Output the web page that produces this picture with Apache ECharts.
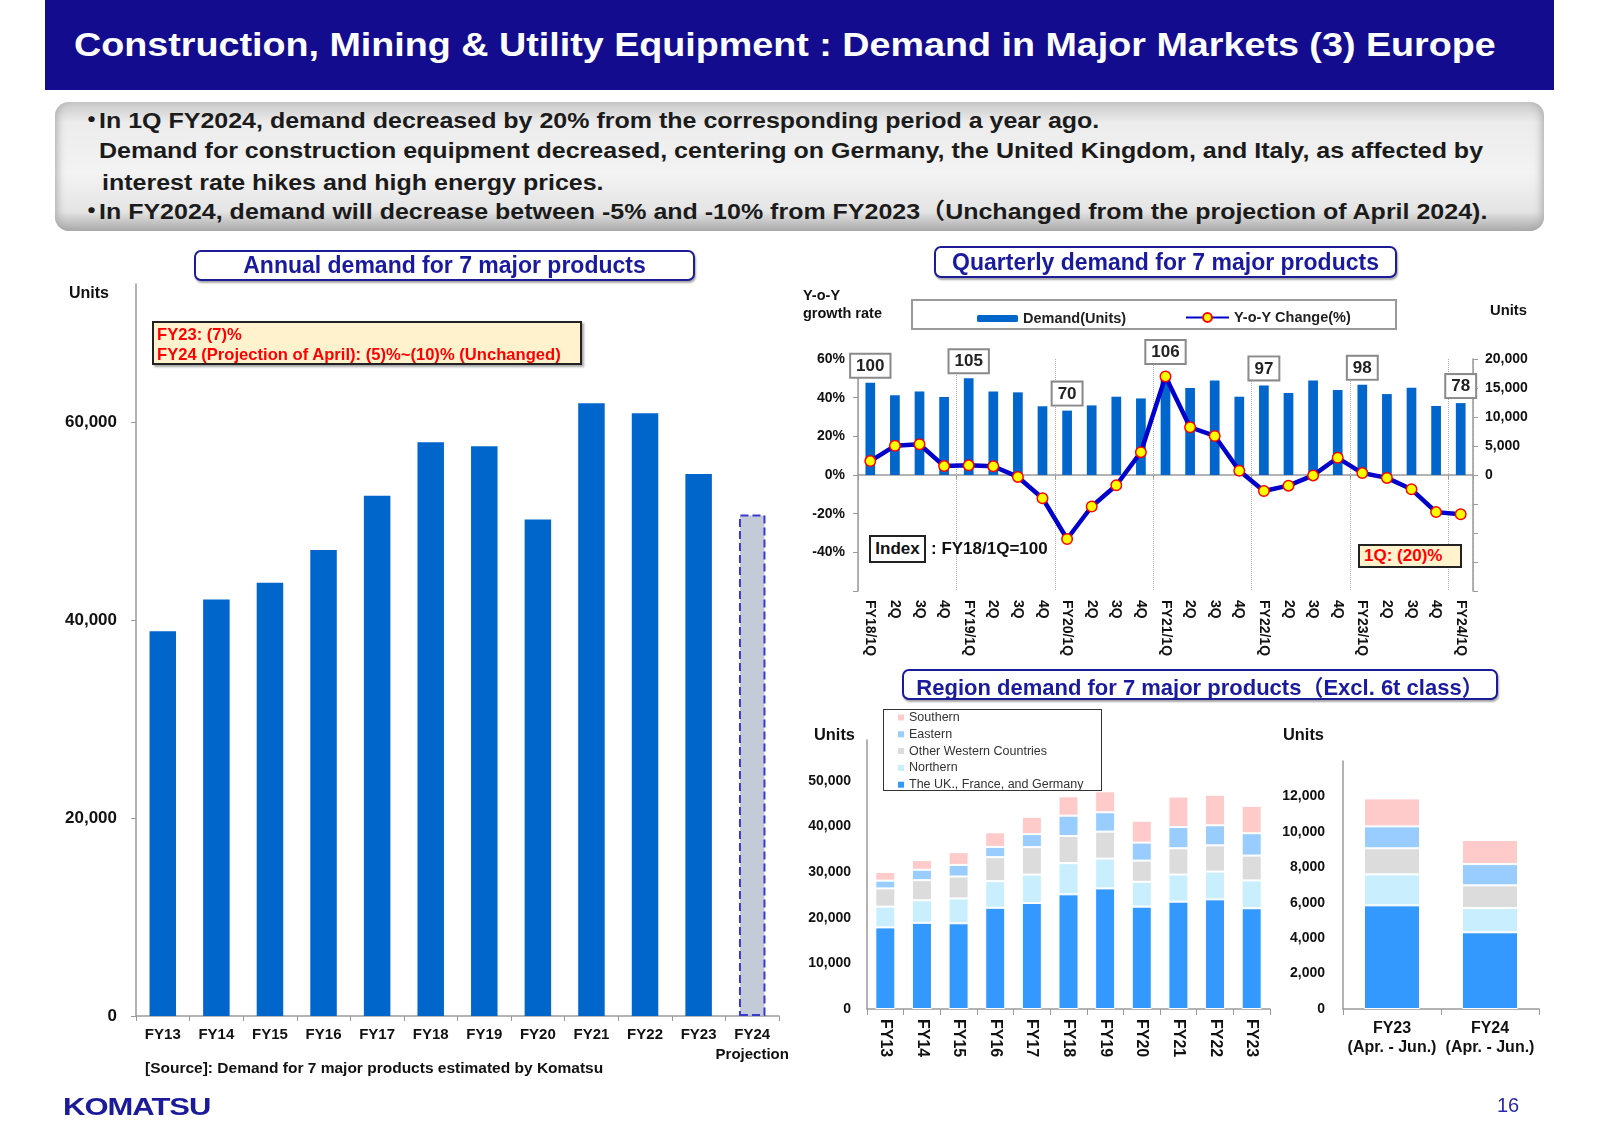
<!DOCTYPE html>
<html>
<head>
<meta charset="utf-8">
<script src="https://cdn.jsdelivr.net/npm/echarts@6/dist/echarts.min.js"></script>
<style>
html,body{margin:0;padding:0;background:#fff;}
#page{position:relative;width:1600px;height:1131px;overflow:hidden;font-family:'Liberation Sans',Arial,'Noto Sans CJK JP',sans-serif;}
#chart{position:absolute;left:0;top:0;width:1600px;height:1131px;}
.abs{position:absolute;white-space:nowrap;}
.mid{transform:translateY(-50%);line-height:1.15;}
.bul{font-weight:bold;font-size:25px;color:#1b1b1b;transform:translateY(-50%) scaleY(0.9);transform-origin:left center;line-height:1.15;}
.tbox{position:absolute;box-sizing:border-box;border:2px solid #1c1c96;border-radius:7px;background:#fff;box-shadow:1px 2px 2px rgba(0,0,0,0.35);color:#1a1a9e;font-weight:bold;font-size:23px;display:flex;align-items:center;justify-content:center;white-space:nowrap;}
.lbl{font-weight:bold;color:#111;}
</style>
</head>
<body>
<div id="page">
  <div id="chart"></div>

  <!-- header -->
  <div class="abs" style="left:45px;top:0;width:1509px;height:90px;background:#140c8f;"></div>
  <div class="abs" style="left:74px;top:45px;color:#fff;font-weight:bold;font-size:37.7px;line-height:1.15;transform:translateY(-50%) scaleY(0.86);transform-origin:left center;">Construction, Mining &amp; Utility Equipment : Demand in Major Markets (3) Europe</div>

  <!-- summary box -->
  <div class="abs" style="left:55px;top:102px;width:1489px;height:129px;border-radius:14px;background:linear-gradient(to bottom,#c9c9c9 0%,#ececec 16%,#f3f3f3 55%,#e4e4e4 85%,#a9a9a9 100%);box-shadow:inset 8px 0 8px -6px #aaa, inset -8px 0 8px -6px #aaa;"></div>
  <div class="abs bul" style="left:79px;top:120px;">・</div>
  <div class="abs bul" style="left:99px;top:120px;">In 1Q FY2024, demand decreased by 20% from the corresponding period a year ago.</div>
  <div class="abs bul" style="left:99px;top:150px;">Demand for construction equipment decreased, centering on Germany, the United Kingdom, and Italy, as affected by</div>
  <div class="abs bul" style="left:102px;top:182px;">interest rate hikes and high energy prices.</div>
  <div class="abs bul" style="left:79px;top:211px;">・</div>
  <div class="abs bul" style="left:99px;top:211px;">In FY2024, demand will decrease between -5% and -10% from FY2023（Unchanged from the projection of April 2024).</div>

  <!-- section titles -->
  <div class="tbox" style="left:194px;top:250px;width:501px;height:31px;">Annual demand for 7 major products</div>
  <div class="tbox" style="left:934px;top:246px;width:463px;height:32px;">Quarterly demand for 7 major products</div>
  <div class="tbox" style="left:902px;top:669px;width:596px;height:31px;font-size:22px;">Region demand for 7 major products（Excl. 6t class）</div>

  <!-- annual chart texts -->
  <div class="abs mid lbl" style="left:69px;top:293px;font-size:16px;">Units</div>
  <div class="abs" style="left:152px;top:321px;width:430px;height:44px;box-sizing:border-box;background:#fff2cc;border:2px solid #222;box-shadow:2px 2px 2px rgba(0,0,0,0.35);"></div>
  <div class="abs mid" style="left:157px;top:335px;color:#ff0000;font-weight:bold;font-size:16.6px;">FY23: (7)%</div>
  <div class="abs mid" style="left:157px;top:355px;color:#ff0000;font-weight:bold;font-size:16.6px;">FY24 (Projection of April): (5)%~(10)% (Unchanged)</div>
  <div class="abs mid lbl" style="left:145px;top:1068px;font-size:15.5px;">[Source]: Demand for 7 major products estimated by Komatsu</div>

  <!-- quarterly chart texts -->
  <div class="abs mid lbl" style="left:803px;top:295px;font-size:14.5px;">Y-o-Y</div>
  <div class="abs mid lbl" style="left:803px;top:313px;font-size:14.5px;">growth rate</div>
  <div class="abs" style="left:911px;top:299px;width:486px;height:31px;box-sizing:border-box;border:2px solid #9a9a9a;"></div>
  <div class="abs mid lbl" style="left:1490px;top:311px;font-size:14.8px;">Units</div>
  <div class="abs" style="left:869px;top:535px;width:57px;height:28px;box-sizing:border-box;border:2px solid #222;background:#fff;display:flex;align-items:center;justify-content:center;font-weight:bold;font-size:17px;color:#111;">Index</div>
  <div class="abs mid lbl" style="left:931px;top:549px;font-size:17px;">: FY18/1Q=100</div>
  <div class="abs" style="left:1358px;top:544px;width:104px;height:24px;box-sizing:border-box;border:2px solid #222;background:#fff2cc;"></div>
  <div class="abs mid" style="left:1364px;top:556px;color:#ff0000;font-weight:bold;font-size:17px;">1Q: (20)%</div>

  <!-- region chart texts -->
  <div class="abs" style="left:883px;top:709px;width:219px;height:82px;box-sizing:border-box;border:1.5px solid #333;"></div>
  <div class="abs mid lbl" style="left:814px;top:734px;font-size:16.4px;">Units</div>
  <div class="abs mid lbl" style="left:1283px;top:734px;font-size:16.4px;">Units</div>

  <!-- footer -->
  <div class="abs mid" style="left:63px;top:1107px;color:#1a1a9a;font-weight:900;font-size:31px;letter-spacing:-1px;transform:translateY(-50%) scaleY(0.8);transform-origin:left center;">KOMATSU</div>
  <div class="abs mid" style="left:1497px;top:1105px;color:#2a2aa8;font-size:20px;">16</div>
</div>

<script>
// ---------- Annual demand (units) ----------
const annualCats = ['FY13','FY14','FY15','FY16','FY17','FY18','FY19','FY20','FY21','FY22','FY23','FY24'];
const annualDemand = [38900, 42100, 43800, 47100, 52600, 58000, 57600, 50200, 61950, 60930, 54800, 50700];
const projectionNote = 'Projection';   // FY24 is the projection

// ---------- Quarterly demand ----------
const quarterCats = ['FY18/1Q','2Q','3Q','4Q','FY19/1Q','2Q','3Q','4Q','FY20/1Q','2Q','3Q','4Q',
                     'FY21/1Q','2Q','3Q','4Q','FY22/1Q','2Q','3Q','4Q','FY23/1Q','2Q','3Q','4Q','FY24/1Q'];
const quarterDemand = [15900, 13750, 14400, 13450, 16700, 14400, 14250, 11850, 11100, 12000, 13500, 13200,
                       16900, 15000, 16300, 13500, 15450, 14150, 16300, 14650, 15550, 13950, 15050, 11900, 12400];
const quarterYoY = [7.2, 15.1, 15.9, 4.6, 5.0, 4.5, -1.0, -12.0, -33.1, -16.3, -5.3, 11.8,
                    51.0, 24.7, 20.2, 2.2, -8.3, -5.5, -0.2, 8.9, 1.0, -1.5, -7.4, -19.2, -20.3];
const quarterIndex = [100,null,null,null,105,null,null,null,70,null,null,null,
                      106,null,null,null,97,null,null,null,98,null,null,null,78];

// ---------- Region demand (Excl. 6t class) ----------
const regionCats = ['FY13','FY14','FY15','FY16','FY17','FY18','FY19','FY20','FY21','FY22','FY23'];
const ukFrDe       = [17900, 18900, 18800, 22200, 23250, 25150, 26450, 22450, 23550, 24050, 22100];
const northern     = [4550, 4950, 5450, 5850, 6250, 6850, 6550, 5450, 5950, 6100, 6100];
const otherWestern = [4000, 4400, 4800, 5250, 6000, 5950, 5900, 4650, 5750, 5750, 5450];
const eastern      = [1700, 2300, 2550, 2250, 2850, 4450, 4250, 3950, 4650, 4400, 4900];
const southern     = [1900, 2100, 2800, 3200, 3800, 4250, 4600, 4800, 6700, 6700, 6000];

const qRegionCats = ['FY23\n(Apr. - Jun.)', 'FY24\n(Apr. - Jun.)'];
const qUkFrDe       = [5850, 4330];
const qNorthern     = [1750, 1370];
const qOtherWestern = [1470, 1280];
const qEastern      = [1240, 1200];
const qSouthern     = [1580, 1360];

const regionNames = ['The UK., France, and Germany', 'Northern', 'Other Western Countries', 'Eastern', 'Southern'];
const regionColors = ['#3399ff', '#c9efff', '#dcdcdc', '#99ccff', '#ffcaca'];

// ---------- chart ----------
const FONT = "'Liberation Sans', Arial, sans-serif";
const fmtNum = v => String(v).replace(/\B(?=(\d{3})+(?!\d))/g, ',');
const axisGray = {color: '#9a9a9a', width: 1.5};
const boldLbl = (size, extra) => Object.assign({fontSize: size, fontWeight: 'bold', color: '#111', fontFamily: FONT}, extra || {});

const chart = echarts.init(document.getElementById('chart'), null, {renderer: 'canvas'});

const lastAnnual = annualCats.length - 1;
const annualData = annualDemand.map((v, i) => i === lastAnnual
  ? {value: v, itemStyle: {color: '#c3cbd8', borderColor: '#3a3acc', borderWidth: 2, borderType: 'dashed'}}
  : v);

const quarterBarData = quarterDemand.map((v, i) => {
  if (quarterIndex[i] == null) return v;
  const lineAsUnits = quarterYoY[i] / 60 * 20000;
  return {
    value: v,
    label: {
      show: true,
      position: 'top',
      distance: lineAsUnits > v - 1500 ? 14 : 6,
      formatter: String(quarterIndex[i]),
      fontSize: 17, fontWeight: 'bold', color: '#222', fontFamily: FONT,
      backgroundColor: '#fff', borderColor: '#8a8a8a', borderWidth: 2,
      padding: [3, 5, 2, 5]
    }
  };
});

const regionAnnual = [ukFrDe, northern, otherWestern, eastern, southern];
const regionQuarter = [qUkFrDe, qNorthern, qOtherWestern, qEastern, qSouthern];

const series = [
  {
    name: 'Annual demand', type: 'bar', xAxisIndex: 0, yAxisIndex: 0,
    barWidth: 26.5, itemStyle: {color: '#0066cc'}, data: annualData
  },
  {
    name: 'Demand(Units)', type: 'bar', xAxisIndex: 1, yAxisIndex: 2,
    barWidth: 9.7, itemStyle: {color: '#0066cc'}, data: quarterBarData, z: 2
  },
  {
    name: 'Y-o-Y Change(%)', type: 'line', xAxisIndex: 1, yAxisIndex: 1,
    data: quarterYoY, symbol: 'circle', symbolSize: 10.5,
    lineStyle: {color: '#0000cc', width: 4.5},
    itemStyle: {color: '#ffff00', borderColor: '#ff0000', borderWidth: 1.5},
    z: 5
  }
];
regionNames.forEach((n, k) => {
  series.push({
    name: n, type: 'bar', stack: 'regionAnnual', xAxisIndex: 3, yAxisIndex: 3, barWidth: 20,
    itemStyle: {color: regionColors[k], borderColor: '#ffffff', borderWidth: 1},
    data: regionAnnual[k]
  });
  series.push({
    name: n, type: 'bar', stack: 'regionQuarter', xAxisIndex: 4, yAxisIndex: 4, barWidth: 56,
    itemStyle: {color: regionColors[k], borderColor: '#ffffff', borderWidth: 1},
    data: regionQuarter[k]
  });
});

const option = {
  animation: false,
  textStyle: {fontFamily: FONT},
  grid: [
    {left: 136, top: 284, width: 643, height: 732, outerBoundsMode: 'none'},
    {left: 858, top: 359, width: 615, height: 232, outerBoundsMode: 'none'},
    {left: 867, top: 740, width: 403, height: 269, outerBoundsMode: 'none'},
    {left: 1343, top: 761, width: 196, height: 248, outerBoundsMode: 'none'}
  ],
  legend: [
    {data: ['Demand(Units)'], left: 972, top: 306, itemWidth: 41, itemHeight: 7, selectedMode: false,
     textStyle: boldLbl(14.5, {color: '#222'})},
    {data: ['Y-o-Y Change(%)'], left: 1180, top: 305, itemWidth: 43, itemHeight: 11, selectedMode: false,
     textStyle: boldLbl(14.5, {color: '#222'})},
    {data: [
       {name: 'Southern', itemStyle: {borderWidth: 0}},
       {name: 'Eastern', itemStyle: {borderWidth: 0}},
       {name: 'Other Western Countries', itemStyle: {borderWidth: 0}},
       {name: 'Northern', itemStyle: {borderWidth: 0}},
       {name: 'The UK., France, and Germany', itemStyle: {borderWidth: 0}}],
     orient: 'vertical', left: 898, top: 711, itemWidth: 6, itemHeight: 6, itemGap: 3.8, icon: 'rect',
     selectedMode: false, padding: 0,
     textStyle: {fontSize: 12.5, color: '#333', fontFamily: FONT}}
  ],
  xAxis: [
    {gridIndex: 0, type: 'category', data: annualCats,
     axisLine: {lineStyle: axisGray}, axisTick: {show: true, length: 5, lineStyle: {color: '#9a9a9a'}},
     axisLabel: boldLbl(15, {interval: 0, margin: 9, lineHeight: 20,
       formatter: (v, i) => i === lastAnnual ? v + '\n' + projectionNote : v})},
    {gridIndex: 1, type: 'category', data: quarterCats, position: 'bottom',
     axisLine: {show: false, onZero: false}, axisTick: {show: false},
     axisLabel: boldLbl(14, {interval: 0, rotate: -90, margin: 9}),
     splitLine: {show: true, interval: 3, lineStyle: {color: '#b0b0b0', type: 'dotted', width: 1}}},
    {gridIndex: 1, type: 'category', data: quarterCats, position: 'bottom',
     axisLine: {show: true, onZero: true, lineStyle: axisGray},
     axisTick: {show: true, interval: 3, length: 4, lineStyle: {color: '#9a9a9a'}},
     axisLabel: {show: false}},
    {gridIndex: 2, type: 'category', data: regionCats,
     axisLine: {lineStyle: axisGray}, axisTick: {show: true, length: 6, lineStyle: {color: '#9a9a9a'}},
     axisLabel: boldLbl(16, {interval: 0, rotate: -90, margin: 10})},
    {gridIndex: 3, type: 'category', data: qRegionCats,
     axisLine: {lineStyle: axisGray}, axisTick: {show: true, length: 6, lineStyle: {color: '#9a9a9a'}},
     axisLabel: boldLbl(16, {interval: 0, margin: 10, lineHeight: 19})}
  ],
  yAxis: [
    {gridIndex: 0, type: 'value', min: 0, max: 74000, interval: 20000,
     axisLine: {show: true, lineStyle: axisGray}, axisTick: {show: true, length: 5, lineStyle: {color: '#9a9a9a'}},
     splitLine: {show: false},
     axisLabel: boldLbl(17, {margin: 19, showMaxLabel: false, formatter: v => v % 20000 === 0 ? fmtNum(v) : ''})},
    {gridIndex: 1, type: 'value', position: 'left', min: -60, max: 60, interval: 20,
     axisLine: {show: true, lineStyle: axisGray}, axisTick: {show: true, length: 5, lineStyle: {color: '#9a9a9a'}},
     splitLine: {show: false},
     axisLabel: boldLbl(14, {margin: 13, formatter: v => v <= -60 ? '' : v + '%'})},
    {gridIndex: 1, type: 'value', position: 'right', min: -20000, max: 20000, interval: 5000,
     axisLine: {show: true, lineStyle: axisGray}, axisTick: {show: true, length: 5, lineStyle: {color: '#9a9a9a'}},
     splitLine: {show: false},
     axisLabel: boldLbl(14, {margin: 12, formatter: v => v < 0 ? '' : fmtNum(v)})},
    {gridIndex: 2, type: 'value', min: 0, max: 59000, interval: 10000,
     axisLine: {show: true, lineStyle: axisGray}, axisTick: {show: false},
     splitLine: {show: false},
     axisLabel: boldLbl(14, {margin: 16, showMaxLabel: false, formatter: v => v % 10000 === 0 ? fmtNum(v) : ''})},
    {gridIndex: 3, type: 'value', min: 0, max: 14000, interval: 2000,
     axisLine: {show: true, lineStyle: axisGray}, axisTick: {show: false},
     splitLine: {show: false},
     axisLabel: boldLbl(14, {margin: 18, showMaxLabel: false, formatter: v => v % 2000 === 0 && v < 14000 ? fmtNum(v) : ''})}
  ],
  series: series
};
chart.setOption(option);
</script>
</body>
</html>
